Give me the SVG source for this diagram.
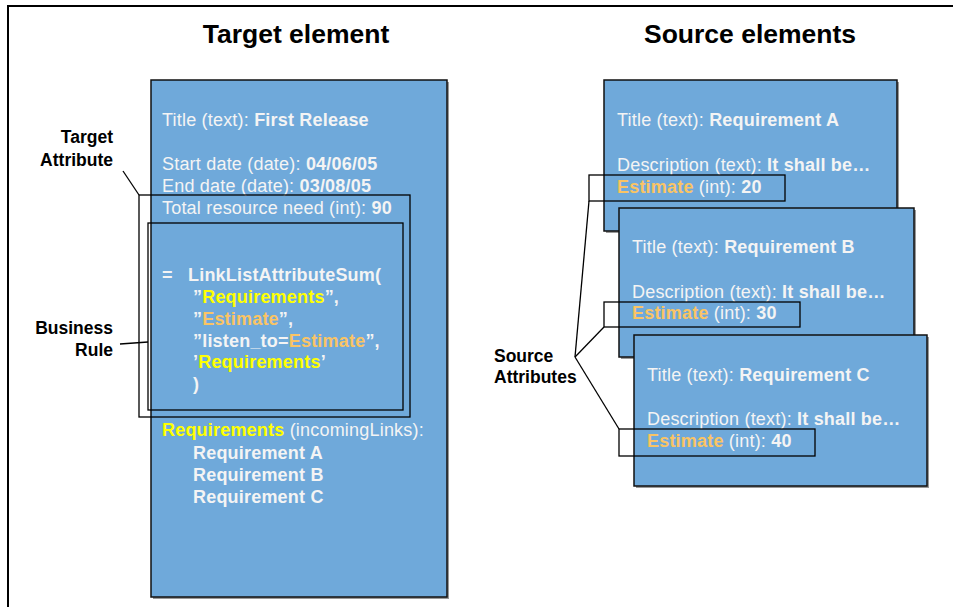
<svg xmlns="http://www.w3.org/2000/svg" width="953" height="607" viewBox="0 0 953 607">
<style>
  text { font-family: "Liberation Sans", Arial, sans-serif; }
  .h { font-size: 26.5px; font-weight: bold; fill: #000; text-anchor: middle; }
  .lab { font-size: 17.5px; font-weight: bold; fill: #000; }
  .t { font-size: 18px; letter-spacing: 0.2px; fill: #F4F4F4; }
  .b { font-weight: bold; }
  .y { fill: #FFFF00; }
  .o { fill: #FAC464; }
  .box { fill: #6FA9DA; stroke: #111; stroke-width: 1.5; }
  .sh { fill: #999; }
  .ln { fill: none; stroke: #000; stroke-width: 1.3; }
</style>
<rect width="953" height="607" fill="#fff"/>
<path d="M8,607 V6 H953" fill="none" stroke="#000" stroke-width="2"/>
<text class="h" x="296" y="43">Target element</text>
<text class="h" x="750" y="43">Source elements</text>

<g id="target">
  <rect class="sh" x="153" y="82" width="296" height="517"/>
  <rect class="box" x="151" y="80" width="296" height="517"/>
  <text class="t" x="162" y="126">Title (text): <tspan class="b">First Release</tspan></text>
  <text class="t" x="162" y="170">Start date (date): <tspan class="b">04/06/05</tspan></text>
  <text class="t" x="162" y="192">End date (date): <tspan class="b">03/08/05</tspan></text>
  <text class="t" x="162" y="214">Total resource need (int): <tspan class="b">90</tspan></text>
  <text class="t b" x="162" y="281">=</text>
  <text class="t b" x="188" y="281">LinkListAttributeSum(</text>
  <text class="t b" x="193" y="303">”<tspan class="y">Requirements</tspan>”,</text>
  <text class="t b" x="193" y="325">”<tspan class="o">Estimate</tspan>”,</text>
  <text class="t b" x="193" y="347">”listen_to=<tspan class="o">Estimate</tspan>”,</text>
  <text class="t b" x="193" y="368">’<tspan class="y">Requirements</tspan>’</text>
  <text class="t b" x="193" y="390">)</text>
  <text class="t" x="162" y="436"><tspan class="y b">Requirements</tspan> (incomingLinks):</text>
  <text class="t b" x="193" y="459">Requirement A</text>
  <text class="t b" x="193" y="481">Requirement B</text>
  <text class="t b" x="193" y="503">Requirement C</text>
</g>

<g id="target-attribute">
  <rect class="ln" x="139" y="195" width="271" height="222"/>
  <text class="lab" x="113" y="143" text-anchor="end">Target</text>
  <text class="lab" x="113" y="166" text-anchor="end">Attribute</text>
</g>

<g id="business-rule">
  <rect class="ln" x="148" y="223" width="255" height="187"/>
  <text class="lab" x="113" y="334" text-anchor="end">Business</text>
  <text class="lab" x="113" y="356" text-anchor="end">Rule</text>
</g>

<g id="source-a">
  <rect class="sh" x="606" y="82" width="293" height="151"/>
  <rect class="box" x="604" y="80" width="293" height="151"/>
  <text class="t" x="617" y="126">Title (text): <tspan class="b">Requirement A</tspan></text>
  <text class="t" x="617" y="171">Description (text): <tspan class="b">It shall be…</tspan></text>
  <text class="t" x="617" y="193"><tspan class="o b">Estimate</tspan> (int): <tspan class="b">20</tspan></text>
  <rect class="ln" x="589" y="175" width="196" height="26"/>
</g>

<g id="source-b">
  <rect class="sh" x="621" y="210" width="295" height="149"/>
  <rect class="box" x="619" y="208" width="295" height="149"/>
  <text class="t" x="632" y="253">Title (text): <tspan class="b">Requirement B</tspan></text>
  <text class="t" x="632" y="298">Description (text): <tspan class="b">It shall be…</tspan></text>
  <text class="t" x="632" y="319"><tspan class="o b">Estimate</tspan> (int): <tspan class="b">30</tspan></text>
  <rect class="ln" x="604" y="302" width="196" height="25"/>
</g>

<g id="source-c">
  <rect class="sh" x="636" y="337" width="293" height="151"/>
  <rect class="box" x="634" y="335" width="293" height="151"/>
  <text class="t" x="647" y="381">Title (text): <tspan class="b">Requirement C</tspan></text>
  <text class="t" x="647" y="425">Description (text): <tspan class="b">It shall be…</tspan></text>
  <text class="t" x="647" y="447"><tspan class="o b">Estimate</tspan> (int): <tspan class="b">40</tspan></text>
  <rect class="ln" x="619" y="429" width="196" height="27"/>
</g>

<g id="source-attributes">
  <text class="lab" x="494" y="362">Source</text>
  <text class="lab" x="494" y="383">Attributes</text>
</g>

<g id="connectors">
  <line class="ln" x1="123" y1="171" x2="139" y2="195"/>
  <line class="ln" x1="120" y1="344" x2="148" y2="342"/>
  <line class="ln" x1="575" y1="357" x2="589" y2="201"/>
  <line class="ln" x1="575" y1="357" x2="604" y2="327"/>
  <line class="ln" x1="575" y1="357" x2="619" y2="429"/>
</g>
</svg>
